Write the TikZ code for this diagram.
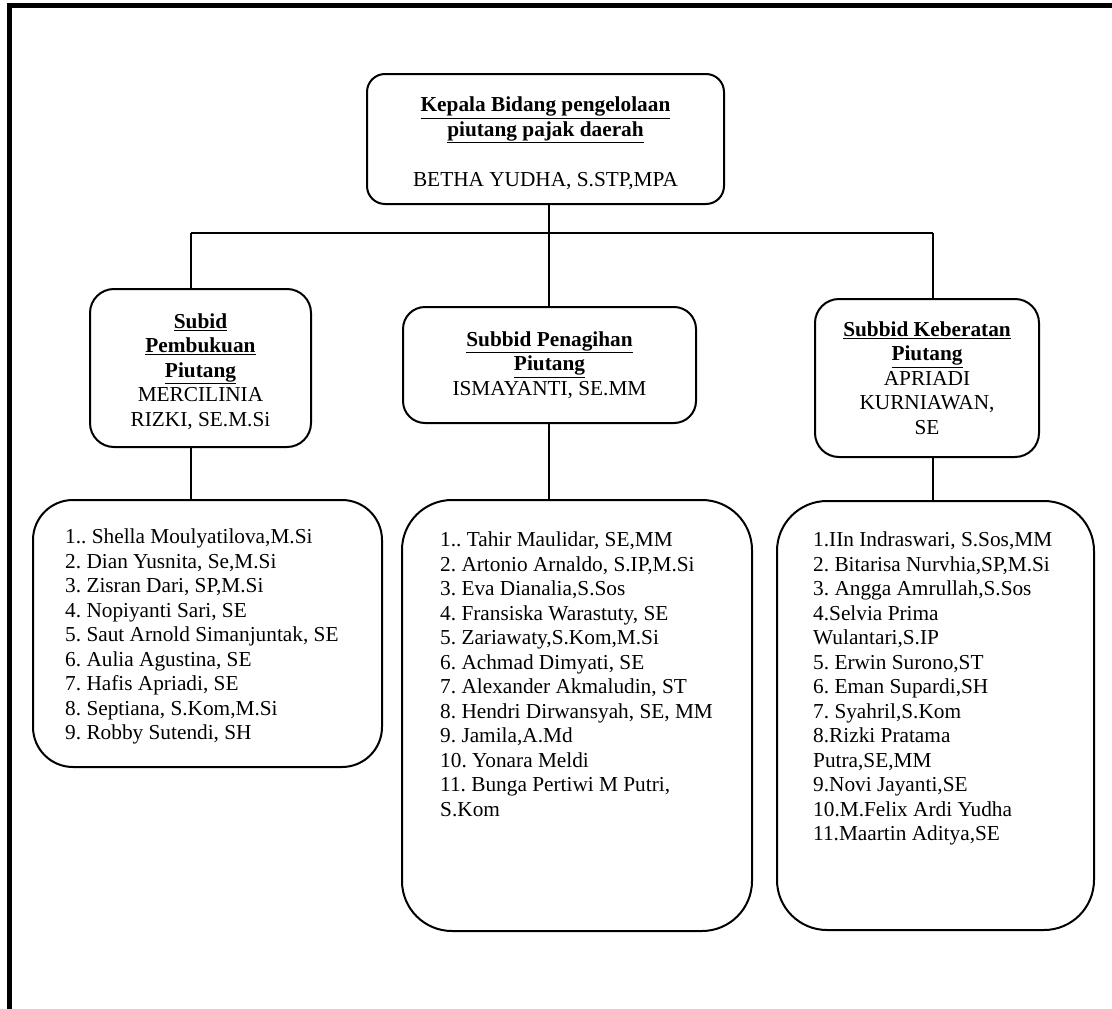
\documentclass[tikz,border=0pt]{standalone}
\usepackage{fontspec}
\setmainfont{Liberation Serif}
\usepackage{tikz}
\usetikzlibrary{positioning}
\frenchspacing

\begin{document}
\begin{tikzpicture}[
		x=1pt, y=-1pt,
		font=\fontsize{21.3}{24.5}\selectfont,
		K/.style = {rectangle, draw, line width=2pt,% boxes of the chart
			rounded corners=#1, align=center, inner sep=0pt},
		K/.default=24pt,
		W/.style = {align=left, inner sep=0pt, anchor=north west},% names inside the lists
		C/.style = {line width=1.6pt},
		]
		\useasboundingbox (0,0) rectangle (1112,1009);
		\draw[line width=5pt] (9.5,1009) -- (9.5,5.5) -- (1112,5.5);
		% head
		\node[K=18pt, minimum width=357pt, minimum height=130pt] (K0) at (545.5,139)
			{\rule{0pt}{24pt}\underline{\textbf{Kepala Bidang pengelolaan}}\\ \underline{\textbf{piutang pajak daerah}}\\[26pt] BETHA YUDHA, S.STP,MPA};
		% subbid boxes
		\node[K, minimum width=221pt, minimum height=158pt] (S1) at (200.5,368)
			{\rule{0pt}{22pt}\underline{\textbf{Subid}}\\ \underline{\textbf{Pembukuan}}\\ \underline{\textbf{Piutang}}\\ MERCILINIA\\ RIZKI, SE.M.Si};
		\node[K=22pt, minimum width=293pt, minimum height=116pt] (S2) at (549.5,365)
			{\underline{\textbf{Subbid Penagihan}}\\ \underline{\textbf{Piutang}}\\ ISMAYANTI, SE.MM};
		\node[K, minimum width=224pt, minimum height=158pt] (S3) at (927,378)
			{\underline{\textbf{Subbid Keberatan}}\\ \underline{\textbf{Piutang}}\\ APRIADI\\ KURNIAWAN,\\ SE};
		% lists
		\node[K=40pt, minimum width=349pt, minimum height=267pt] (L1) at (207.5,633.5) {};
		\node[K=50pt, minimum width=350pt, minimum height=431pt] (L2) at (577,715.5) {};
		\node[K=50pt, minimum width=317pt, minimum height=429pt] (L3) at (935.5,715.5) {};
		\node[W] (T1) at (65,529) {1.. Shella Moulyatilova,M.Si\\ 2. Dian Yusnita, Se,M.Si\\ 3. Zisran Dari, SP,M.Si\\
			4. Nopiyanti Sari, SE\\ 5. Saut Arnold Simanjuntak, SE\\ 6. Aulia Agustina, SE\\ 7. Hafis Apriadi, SE\\
			8. Septiana, S.Kom,M.Si\\ 9. Robby Sutendi, SH};
		\node[W] (T2) at (440,532) {1.. Tahir Maulidar, SE,MM\\ 2. Artonio Arnaldo, S.IP,M.Si\\ 3. Eva Dianalia,S.Sos\\
			4. Fransiska Warastuty, SE\\ 5. Zariawaty,S.Kom,M.Si\\ 6. Achmad Dimyati, SE\\ 7. Alexander Akmaludin, ST\\
			8. Hendri Dirwansyah, SE, MM\\ 9. Jamila,A.Md\\ 10. Yonara Meldi\\ 11. Bunga Pertiwi M Putri,\\ S.Kom};
		\node[W] (T3) at (813,532) {1.IIn Indraswari, S.Sos,MM\\ 2. Bitarisa Nurvhia,SP,M.Si\\ 3. Angga Amrullah,S.Sos\\
			4.Selvia Prima\\ Wulantari,S.IP\\ 5. Erwin Surono,ST\\ 6. Eman Supardi,SH\\ 7. Syahril,S.Kom\\
			8.Rizki Pratama\\ Putra,SE,MM\\ 9.Novi Jayanti,SE\\ 10.M.Felix Ardi Yudha\\ 11.Maartin Aditya,SE};
		% connectors
		\coordinate (J1) at (191,233);
		\coordinate (J2) at (549,233);
		\coordinate (J3) at (933,233);
		\draw[C] (K0.south -| J2) -- (J2);
		\draw[C] (J1) -- (J3);
		\draw[C] (J1) -- (J1 |- S1.north);
		\draw[C] (J2) -- (J2 |- S2.north);
		\draw[C] (J3) -- (J3 |- S3.north);
		\draw[C] (S1.south -| J1) -- (J1 |- L1.north);
		\draw[C] (S2.south -| J2) -- (J2 |- L2.north);
		\draw[C] (S3.south -| J3) -- (J3 |- L3.north);
	\end{tikzpicture}
\end{document}
